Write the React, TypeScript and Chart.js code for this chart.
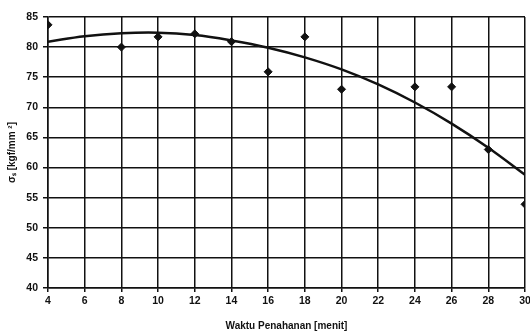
import React, { useEffect, useRef } from "react";
import { Chart, registerables } from "chart.js";

Chart.register(...registerables);

// Holding time (minutes) and measured strength σs (kgf/mm²)
const holdingTime = [4, 8, 10, 12, 14, 16, 18, 20, 24, 26, 28, 30];
const strength = [83.7, 80.0, 81.7, 82.2, 80.9, 75.9, 81.7, 73.0, 73.4, 73.4, 63.0, 53.9];

// Trend curve fitted through the measurements
const trendTime = [4, 6, 8, 10, 12, 14, 16, 18, 20, 22, 24, 26, 28, 30];
const trendStrength = [80.9, 81.8, 82.3, 82.4, 82.0, 81.1, 79.9, 78.3, 76.3, 73.8, 70.8, 67.3, 63.3, 58.8];

const xTitle = "Waktu Penahanan [menit]";
const yTitle = "σₛ [kgf/mm ²]";

export default function App() {
  const canvasRef = useRef<HTMLCanvasElement | null>(null);

  useEffect(() => {
    const canvas = canvasRef.current;
    if (!canvas) return;
    const font = { family: "'Liberation Sans', Arial, sans-serif", size: 10.5, weight: "bold" as const };

    const chart = new Chart(canvas, {
      type: "line",
      data: {
        datasets: [
          {
            label: "trend",
            data: trendTime.map((x, i) => ({ x, y: trendStrength[i] })),
            borderColor: "#111",
            borderWidth: 2.5,
            pointRadius: 0,
            tension: 0.4,
            fill: false,
          },
          {
            label: "data",
            data: holdingTime.map((x, i) => ({ x, y: strength[i] })),
            showLine: false,
            pointStyle: "rectRot",
            pointRadius: 4,
            pointBackgroundColor: "#111",
            pointBorderColor: "#111",
            pointBorderWidth: 1,
          },
        ],
      },
      options: {
        animation: false,
        responsive: false,
        maintainAspectRatio: false,
        layout: { padding: { top: 17, right: 5, left: 0, bottom: 0 } },
        plugins: { legend: { display: false }, tooltip: { enabled: false } },
        scales: {
          x: {
            type: "linear",
            min: 4,
            max: 30,
            ticks: { stepSize: 2, color: "#111", font, padding: 3 },
            grid: { color: "#111", lineWidth: 1.5, tickLength: 4 },
            border: { color: "#111", width: 1.5 },
            title: { display: true, text: xTitle, color: "#111", font: { ...font, size: 10 }, padding: { top: 0, bottom: 3 } },
            afterFit: (s: any) => {
              s.height = 47;
              s.paddingLeft = 0;
              s.paddingRight = 0;
            },
          },
          y: {
            type: "linear",
            min: 40,
            max: 85,
            ticks: { stepSize: 5, color: "#111", font, padding: 5 },
            grid: { color: "#111", lineWidth: 1.5, tickLength: 5 },
            border: { color: "#111", width: 1.5 },
            title: { display: true, text: yTitle, color: "#111", font: { ...font, size: 10 }, padding: { top: 6, bottom: 0 } },
            afterFit: (s: any) => {
              s.width = 48;
              s.paddingTop = 0;
              s.paddingBottom = 0;
            },
          },
        },
      },
    });
    return () => chart.destroy();
  }, []);

  return (
    <div style={{ position: "fixed", left: 0, top: 0, width: 530, height: 335, background: "#fff" }}>
      <canvas ref={canvasRef} width={530} height={335} style={{ width: 530, height: 335 }} />
    </div>
  );
}
